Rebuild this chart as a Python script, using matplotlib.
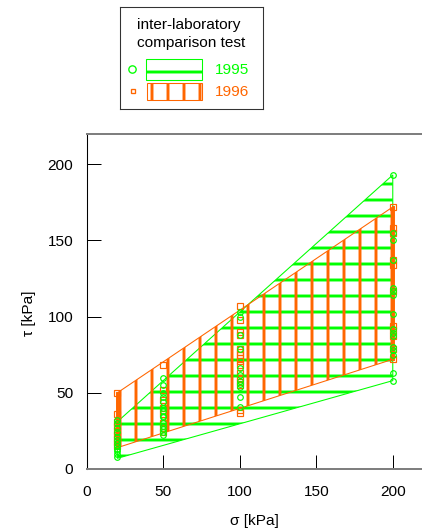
import matplotlib
matplotlib.use('Agg')
import matplotlib.pyplot as plt
from matplotlib.patches import Polygon, Rectangle
import numpy as np

# measured points, sigma [kPa] -> list of tau [kPa]
pts_1995 = {
    20: [32, 30, 27, 24, 21, 19, 17, 15, 13, 12, 10, 8],
    50: [60, 55, 50, 47, 44, 40, 38, 35, 34, 30, 28, 26, 24, 22],
    100: [103, 100, 88, 79, 66, 62, 58, 56, 54, 47, 41],
    200: [193, 155, 150, 137, 119, 117, 114, 102, 92, 89, 87, 80, 78, 75, 63, 58],
}
pts_1996 = {
    20: [50, 36, 31, 28, 25, 22, 20, 18, 15],
    50: [68, 52, 45, 40, 36, 30, 27, 24],
    100: [107, 98, 90, 88, 79, 77, 75, 73, 71, 68, 63, 60, 57, 55, 39, 37],
    200: [172, 158, 155, 137, 134, 117, 94, 91, 87, 79, 72],
}

# envelopes (sigma ends, lower and upper tau)
env_x = [20, 200]
env_1995_lo = [7, 58]
env_1995_hi = [31, 193]
env_1996_lo = [14, 72]
env_1996_hi = [50, 172]

xticks = [0, 50, 100, 150, 200]
yticks = [0, 50, 100, 150, 200]

green = '#00ff00'
orange = '#ff6600'
font = ['Liberation Sans', 'DejaVu Sans']

plt.rcParams['font.family'] = font
plt.rcParams['hatch.linewidth'] = 2.2

fig = plt.figure(figsize=(422 / 96, 531 / 96), dpi=96)
ax = fig.add_axes([86.7 / 422, 62 / 531, 335.3 / 422, 335 / 531])


def poly(lo, hi):
    return [(env_x[0], lo[0]), (env_x[1], lo[1]), (env_x[1], hi[1]), (env_x[0], hi[0])]


ax.add_patch(Polygon(poly(env_1995_lo, env_1995_hi), closed=True, fill=False,
                     edgecolor=green, hatch='-', lw=0.8, zorder=1))
ax.add_patch(Polygon(poly(env_1996_lo, env_1996_hi), closed=True, fill=False,
                     edgecolor=orange, hatch='|', lw=0.8, zorder=2))
for i in range(2):
    ax.plot([env_x[i], env_x[i]], [env_1996_lo[i], env_1996_hi[i]],
            color=orange, lw=2.2, zorder=3)

for s, taus in pts_1996.items():
    ax.plot([s] * len(taus), taus, ls='none', marker='s', ms=4.2, mew=0.9,
            mfc='none', mec=orange, zorder=4)
for s, taus in pts_1995.items():
    ax.plot([s] * len(taus), taus, ls='none', marker='o', ms=4.2, mew=0.9,
            mfc='none', mec=green, zorder=5)

ax.set_xlim(0, 219.1)
ax.set_ylim(0, 219.9)
ax.set_xticks(xticks)
ax.set_yticks(yticks)
ax.tick_params(direction='in', length=10.5, width=0.75, color='black',
               labelsize=11.5)
ax.tick_params(axis='y', pad=10)
ax.tick_params(axis='x', pad=12)
ax.spines['right'].set_visible(False)
for sp in ['top', 'bottom']:
    ax.spines[sp].set_color('#7f7f7f')
    ax.spines[sp].set_linewidth(1.5)
ax.spines['left'].set_color('black')
ax.spines['left'].set_linewidth(0.8)

ax.set_xlabel('σ [kPa]', fontsize=11.5)
ax.set_ylabel('τ [kPa]', fontsize=11.5)
ax.xaxis.set_label_coords(0.5, -0.133)
ax.yaxis.set_label_coords(-0.15, 0.466)

# legend box
lg = fig.add_axes([120 / 422, 1 - 108.5 / 531, 143 / 422, 101.5 / 531])
lg.set_xlim(120, 263)
lg.set_ylim(108.5, 7)
lg.set_xticks([])
lg.set_yticks([])
for sp in lg.spines.values():
    sp.set_color('#333333')
    sp.set_linewidth(0.8)
lg.text(189, 25.5, 'inter-laboratory', ha='center', va='center', fontsize=11.5)
lg.text(191, 43, 'comparison test', ha='center', va='center', fontsize=11.5)
lg.plot([131.7], [69.3], marker='o', ms=5.5, mew=1, mfc='none', mec=green)
lg.plot([132.5], [91], marker='s', ms=3.5, mew=1, mfc='none', mec=orange)
lg.add_patch(Rectangle((146, 59.3), 56, 20.7, fill=False, edgecolor=green,
                       hatch='-', lw=0.8))
lg.add_patch(Rectangle((147, 83.3), 55, 16.7, fill=False, edgecolor=orange,
                       hatch='|', lw=0.8))
lg.text(215, 69.5, '1995', color=green, va='center', fontsize=11.5)
lg.text(215, 91.5, '1996', color=orange, va='center', fontsize=11.5)

fig.savefig('out.png', dpi=96)
